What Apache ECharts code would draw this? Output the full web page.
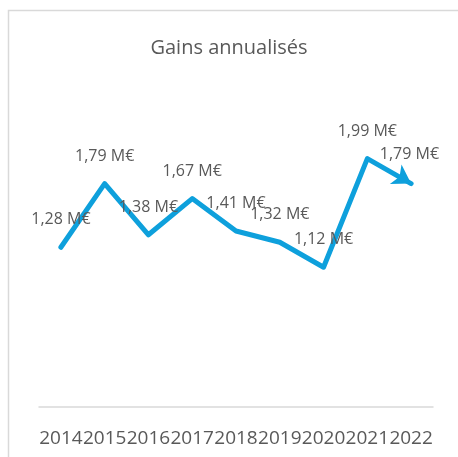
<!DOCTYPE html>
<html>
<head>
<meta charset="utf-8">
<script src="https://cdn.jsdelivr.net/npm/echarts@6/dist/echarts.min.js"></script>
<style>
  html, body { margin: 0; padding: 0; background: #fff; }
  #chart { width: 458px; height: 457px; }
</style>
</head>
<body>
<div id="chart"></div>
<script>
var years = ['2014', '2015', '2016', '2017', '2018', '2019', '2020', '2021', '2022']
var gains = [1.28, 1.79, 1.38, 1.67, 1.41, 1.32, 1.12, 1.99, 1.79]
var titleText = 'Gains annualisés'

var chart = echarts.init(document.getElementById('chart'))

// last point carries the arrow head
var seriesData = gains.map(function (v, i) {
  if (i === gains.length - 1) {
    return {
      value: v,
      symbol: 'arrow',
      symbolSize: [17, 18],
      symbolRotate: -121,
      label: {distance: 2, offset: [6, 0]}
    }
  }
  return v
})

var option = {
  animation: false,
  title: {
    text: titleText,
    left: 'center',
    top: 33,
    textStyle: {fontFamily: 'Open Sans', fontSize: 20, fontWeight: 'normal', color: '#595959'}
  },
  graphic: [{
    type: 'rect',
    shape: {x: 8.5, y: 10.5, width: 480, height: 480},
    style: {fill: 'none', stroke: '#d9d9d9', lineWidth: 1.5},
    silent: true
  }],
  grid: {left: 39, right: 25, top: 95, bottom: 50},
  xAxis: {
    type: 'category',
    data: years,
    boundaryGap: true,
    axisLine: {lineStyle: {color: '#d9d9d9', width: 1.5}},
    axisTick: {show: false},
    axisLabel: {
      interval: 0,
      margin: 22,
      color: '#595959',
      fontFamily: 'Open Sans',
      fontSize: 19
    }
  },
  yAxis: {
    type: 'value',
    min: 0,
    max: 2.5,
    show: false,
    splitLine: {show: false}
  },
  series: [{
    type: 'line',
    data: seriesData,
    symbol: 'circle',
    symbolSize: 3,
    itemStyle: {color: '#0ea0dc'},
    lineStyle: {color: '#0ea0dc', width: 5, cap: 'round', join: 'round'},
    label: {
      show: true,
      position: 'top',
      distance: 18,
      color: '#595959',
      fontFamily: 'Open Sans',
      fontSize: 16,
      formatter: function (p) {
        return p.value.toFixed(2).replace('.', ',') + ' M€'
      }
    }
  }]
}

chart.setOption(option, true)
</script>
</body>
</html>
